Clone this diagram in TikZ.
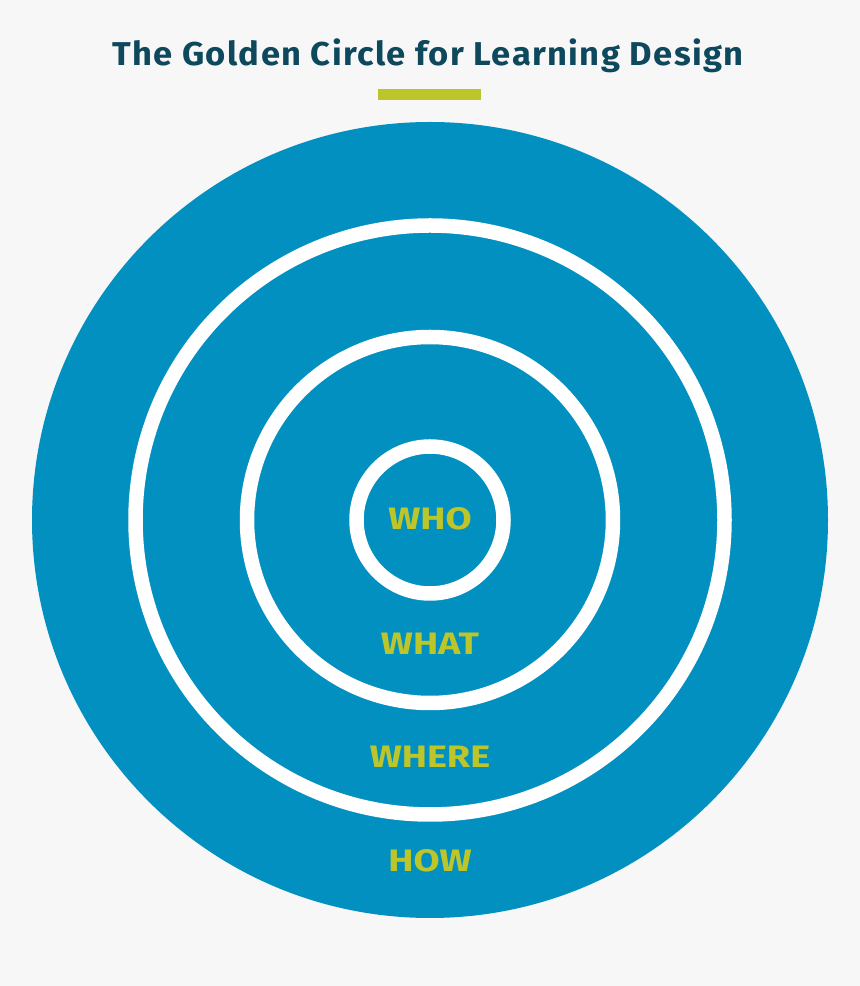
\documentclass[tikz,border=0pt]{standalone}
\usepackage{fontspec}
\setmainfont{Fira Sans}
\definecolor{bgc}{RGB}{247,247,247}
\definecolor{ringblue}{RGB}{2,144,193}
\definecolor{titlec}{RGB}{14,72,92}
\definecolor{lime}{RGB}{188,198,42}
\newcommand{\widelbl}[1]{\scalebox{1.22}[1]{#1}}
\begin{document}
\begin{tikzpicture}[x=1pt,y=1pt,
  lbl/.style={inner sep=0pt,anchor=base,text=lime,font=\fontsize{31}{31}\selectfont\bfseries},
  ringline/.style={draw=white,line width=14.5pt}]
\fill[bgc] (0,0) rectangle (860,986);
\useasboundingbox (0,0) rectangle (860,986);
\node[inner sep=0pt,anchor=base,text=titlec,font=\fontsize{33}{33}\selectfont\bfseries] (title) at (428,920) {\scalebox{1.046}[1]{\addfontfeature{LetterSpace=4}The Golden Circle for Learning Design}};
\fill[lime] (378,886) rectangle (481,897);
\coordinate (c) at (430,466);
\fill[ringblue] (c) circle[radius=398pt];
\draw[ringline] (c) circle[radius=294.5pt];
\draw[ringline] (c) circle[radius=183pt];
\draw[ringline] (c) circle[radius=73.5pt];
\node[lbl] (who) at (430,456) {\widelbl{WHO}};
\node[lbl] (what) at (430,331) {\widelbl{WHAT}};
\node[lbl] (where) at (430,218) {\widelbl{WHERE}};
\node[lbl] (how) at (430,114) {\widelbl{HOW}};
\end{tikzpicture}
\end{document}
